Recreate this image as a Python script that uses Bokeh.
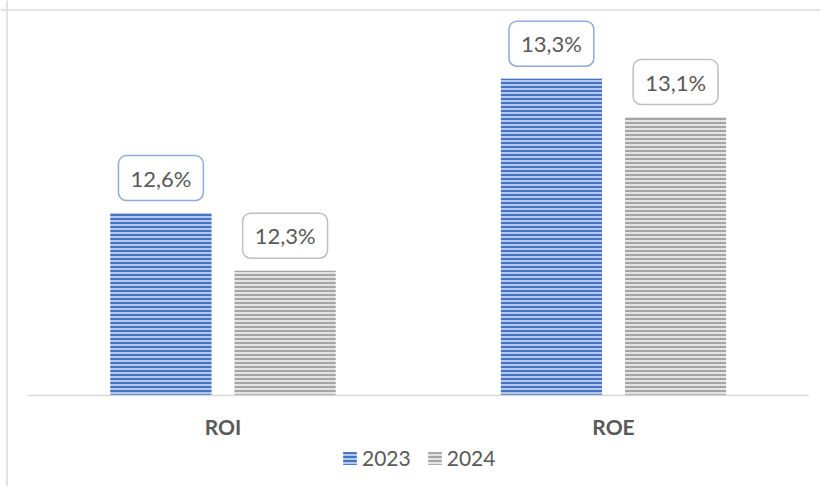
from bokeh.plotting import figure
from bokeh.models import ColumnDataSource, Range1d, Legend, LegendItem, Span
from bokeh.transform import dodge
from bokeh.core.properties import value
from bokeh.embed import file_html
from bokeh.resources import INLINE

categories = ["ROI", "ROE"]
years = ["2023", "2024"]
values_2023 = [12.6, 13.3]
values_2024 = [12.3, 13.1]
labels_2023 = ["12,6%", "13,3%"]
labels_2024 = ["12,3%", "13,1%"]
axis_min = 11.65

FONT = "Lato"
TXT = "#595959"

W, H = 820, 486
PX_X = 390.5          # pixels per category slot
PX_Y = 192.0          # pixels per percentage point
x_start = 0.5 - 222.5 / PX_X
x_end = x_start + W / PX_X
y_end = axis_min + 395 / PX_Y
y_start = y_end - H / PX_Y

# category slot centres (index based)
cat_pos = [i + 0.5 for i in range(len(categories))]

p = figure(width=W, height=H,
           x_range=Range1d(x_start, x_end), y_range=Range1d(y_start, y_end),
           output_backend="svg", toolbar_location=None, tools="",
           min_border=0, x_axis_location=None, y_axis_location=None)
p.grid.visible = False
p.outline_line_color = None
p.background_fill_color = "white"
p.border_fill_color = "white"

# chart-area border (left / top)
p.add_layout(Span(location=x_start + 6.5 / PX_X, dimension="height", line_color="#D9D9D9", line_width=1.5))
p.add_layout(Span(location=y_end - 9.5 / PX_Y, dimension="width", line_color="#D9D9D9", line_width=1.5))

src23 = ColumnDataSource(dict(x=cat_pos, cat=categories, val=values_2023, lab=labels_2023))
src24 = ColumnDataSource(dict(x=cat_pos, cat=categories, val=values_2024, lab=labels_2024))

off = 0.159
bw = 0.259
r23 = p.vbar(x=dodge("x", -off), top="val", bottom=axis_min, width=bw, source=src23,
             fill_color="#B4C7E7", line_color=None,
             hatch_pattern="horizontal_line", hatch_color="#4472C4", hatch_scale=4, hatch_weight=2)
r24 = p.vbar(x=dodge("x", off), top="val", bottom=axis_min, width=bw, source=src24,
             fill_color="#E3E3E3", line_color=None,
             hatch_pattern="horizontal_line", hatch_color="#A5A5A5", hatch_scale=4, hatch_weight=2)

# baseline axis
p.segment(x0=[0], x1=[len(categories)], y0=[axis_min], y1=[axis_min], line_color="#D9D9D9", line_width=1.5)

# data labels
for src, dx, bc in ((src23, -off, "#8FAADC"), (src24, off, "#BFBFBF")):
    p.text(x=dodge("x", dx), y="val", text="lab", source=src,
           y_offset=-35, text_align="center", text_baseline="middle",
           text_font=value(FONT), text_font_size="22px", text_color=TXT,
           background_fill_color="white", border_line_color=bc, border_line_width=1.5,
           padding=(12, 9), border_radius=8)

# category labels
p.text(x="x", y=axis_min, text="cat", source=src23, y_offset=31,
       text_align="center", text_baseline="middle",
       text_font=value(FONT), text_font_size="21px", text_font_style="bold", text_color=TXT)

legend = Legend(items=[LegendItem(label=years[0], renderers=[r23]),
                       LegendItem(label=years[1], renderers=[r24])],
                orientation="horizontal", location=(341, 16),
                glyph_width=17, glyph_height=16, label_standoff=4, spacing=15,
                padding=0, margin=0, border_line_color=None, background_fill_alpha=0,
                label_text_font=FONT, label_text_font_size="21px", label_text_color=TXT)
p.add_layout(legend)

open("out.html", "w").write(file_html(p, INLINE))
